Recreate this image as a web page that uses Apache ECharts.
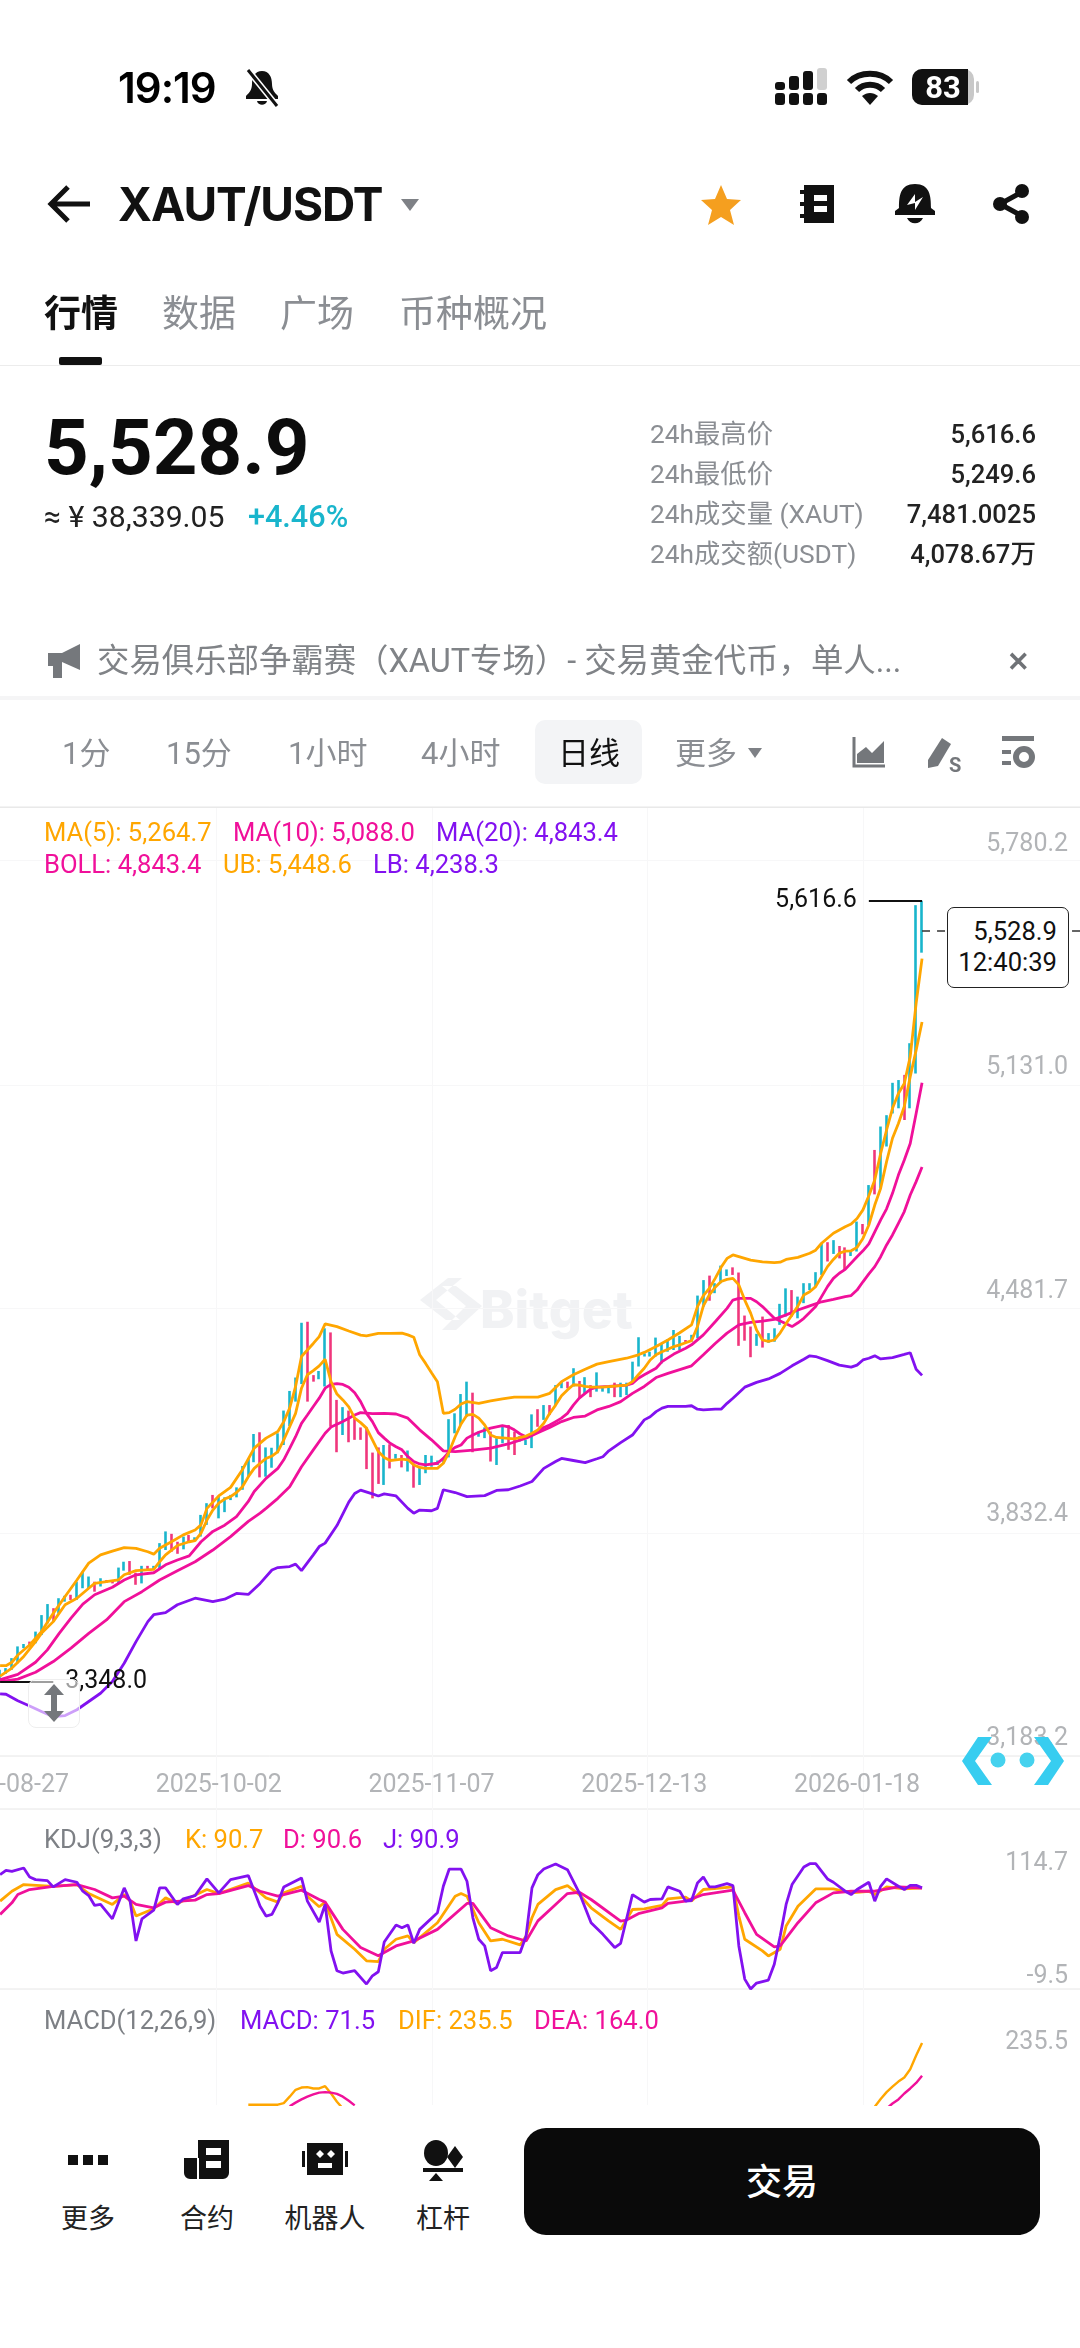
<!DOCTYPE html>
<html>
<head>
<meta charset="utf-8">
<title>XAUT/USDT</title>
<script src="https://cdn.jsdelivr.net/npm/echarts@6/dist/echarts.min.js"></script>
<style>
html,body{margin:0;padding:0;background:#fff;width:1080px;height:2348px;overflow:hidden;font-family:Roboto,"Noto Sans CJK SC",sans-serif}
#main{position:absolute;left:0;top:0;width:1080px;height:2348px;z-index:1}
.t{position:absolute;white-space:nowrap;transform:translateY(calc(-50% + 1.5px));z-index:2;line-height:1.2}
.r{transform:translate(-100%,calc(-50% + 1.5px))}
.c{transform:translate(-50%,calc(-50% + 1.5px))}
.g{color:#8b8e93}
.ic{position:absolute;z-index:2;overflow:visible}
.line{position:absolute;z-index:2;left:0;width:1080px}
.leg{font-size:25.6px}
.tab{font-size:37px;top:314px}
.per{font-size:31px;top:752px;color:#8b8e93}
.stat{font-size:26.3px;color:#8b8e93;left:650px}
.val{font-size:25.6px;color:#222;left:1036px;font-weight:500}
.foot{font-size:27px;top:2218px;color:#222}
</style>
</head>
<body>
<!-- 水印 -->
<svg style="position:absolute;left:418px;top:1272px;z-index:0" width="220" height="72">
  <path d="M30 6 L2 28 L28 48 L42 48 L18 28 L44 6 Z M24 14 L38 14 L64 34 L38 58 L24 58 L48 34 Z" fill="#f1f2f4"/>
  <text x="62" y="56" font-family="Inter" font-weight="800" font-size="52" fill="#f1f2f4">Bitget</text>
</svg>
<div id="main"></div>

<!-- 状态栏 -->
<div class="t" style="left:118px;top:86px;font:600 42px Inter;letter-spacing:-1px">19:19</div>
<svg class="ic" style="left:243px;top:68px" width="38" height="40"><path d="M19 3c-7 0-10 6-10 13 0 6-3 9-6 12v3h32v-3c-3-3-6-6-6-12 0-7-3-13-10-13z M14 33c1 5 9 5 10 0z" fill="#111"/><path d="M5 2 L34 38" stroke="#fff" stroke-width="6"/><path d="M5 2 L34 38" stroke="#111" stroke-width="3"/></svg>
<svg class="ic" style="left:775px;top:68px" width="54" height="38">
  <g fill="#111"><rect x="0" y="25" width="10" height="12" rx="3"/><rect x="14" y="25" width="10" height="12" rx="3"/><rect x="28" y="25" width="10" height="12" rx="3"/><rect x="42" y="25" width="10" height="12" rx="3"/><rect x="0" y="14" width="10" height="8" rx="3"/><rect x="14" y="8" width="10" height="14" rx="3"/><rect x="28" y="3" width="10" height="19" rx="3"/></g>
  <rect x="42" y="0" width="10" height="22" rx="3" fill="#d0d0d0"/>
</svg>
<svg class="ic" style="left:846px;top:68px" width="48" height="38"><g fill="none" stroke="#111" stroke-width="6"><path d="M3 14 C14 3 34 3 45 14"/><path d="M11 22 C18 15 30 15 37 22"/></g><path d="M16 28 C21 24 27 24 32 28 L24 37 Z" fill="#111"/></svg>
<svg class="ic" style="left:912px;top:68px" width="70" height="38"><rect x="0" y="1" width="62" height="36" rx="10" fill="#c8c8c8"/><path d="M10 1 H56 V37 H10 A10 10 0 0 1 0 27 V11 A10 10 0 0 1 10 1 Z" fill="#111"/><rect x="64" y="13" width="3" height="12" rx="1.5" fill="#c8c8c8"/></svg>
<div class="t c" style="left:943px;top:86px;color:#fff;font:700 31px Roboto">83</div>

<!-- 标题栏 -->
<svg class="ic" style="left:46px;top:184px" width="48" height="40"><path d="M44 20 H5 M22 3 L5 20 L22 37" fill="none" stroke="#111" stroke-width="5"/></svg>
<div class="t" style="left:118px;top:202px;font:700 46px Inter;letter-spacing:-1px;color:#111">XAUT/USDT</div>
<svg class="ic" style="left:400px;top:198px" width="20" height="14"><path d="M1 1 H19 L10 13 Z" fill="#7e8186"/></svg>
<svg class="ic" style="left:700px;top:184px" width="42" height="42"><path d="M21 1 L27 15 L41 16 L30 26 L34 41 L21 33 L8 41 L12 26 L1 16 L15 15 Z" fill="#f59f1f"/></svg>
<svg class="ic" style="left:800px;top:184px" width="36" height="40"><path d="M4 1 H34 V39 H4 Z" fill="#111"/><path d="M0 8 H6 M0 20 H6 M0 32 H6" stroke="#111" stroke-width="4"/><path d="M14 11 H27 V17 H14 Z M14 22 H27 V28 H14 Z" fill="#fff"/></svg>
<svg class="ic" style="left:895px;top:184px" width="40" height="42"><path d="M20 0 C5 0 4 12 4 24 L0 27 V31 H40 V27 L36 24 C36 12 35 0 20 0 Z M12 34 C15 41 25 41 28 34 Z" fill="#111"/><path d="M12 21 L20 10 L20 18 L28 13 L20 26 L20 19 Z" fill="#fff"/></svg>
<svg class="ic" style="left:992px;top:184px" width="38" height="40"><path d="M30 8 L8 20 L30 32" fill="none" stroke="#111" stroke-width="5"/><circle cx="30" cy="7" r="7" fill="#111"/><circle cx="8" cy="20" r="7" fill="#111"/><circle cx="30" cy="33" r="7" fill="#111"/></svg>

<!-- 页签 -->
<div class="t tab" style="left:44px;color:#111;font-weight:600">行情</div>
<div class="t tab g" style="left:162px">数据</div>
<div class="t tab g" style="left:280px">广场</div>
<div class="t tab g" style="left:399px">币种概况</div>
<div style="position:absolute;left:59px;top:357px;width:43px;height:8px;border-radius:2px;background:#111;z-index:2"></div>
<div class="line" style="top:365px;height:1px;background:#ececec"></div>

<!-- 价格 -->
<div class="t" style="left:44px;top:446px;font:700 78px Roboto;color:#0c0c0c">5,528.9</div>
<div class="t" style="left:44px;top:516px;font-size:30.2px;color:#222">≈ ¥ 38,339.05</div>
<div class="t" style="left:248px;top:516px;font-size:30.6px;font-weight:500;color:#19b5cc">+4.46%</div>
<div class="t stat" style="top:433px">24h最高价</div><div class="t val r" style="top:433px">5,616.6</div>
<div class="t stat" style="top:473px">24h最低价</div><div class="t val r" style="top:473px">5,249.6</div>
<div class="t stat" style="top:513px">24h成交量 (XAUT)</div><div class="t val r" style="top:513px">7,481.0025</div>
<div class="t stat" style="top:553px">24h成交额(USDT)</div><div class="t val r" style="top:553px">4,078.67万</div>

<!-- 公告 -->
<svg class="ic" style="left:48px;top:644px" width="34" height="36"><path d="M0 9 H14 L32 0 V26 L14 18 V34 H5 V22 H0 Z" fill="#75787c"/></svg>
<div class="t g" style="left:97px;top:660px;font-size:32.4px;color:#808387">交易俱乐部争霸赛（XAUT专场）- 交易黄金代币，单人...</div>
<div class="t c" style="left:1018px;top:660px;font:700 27px Roboto;color:#6f7276">✕</div>
<div class="line" style="top:696px;height:4px;background:#f5f5f6"></div>

<!-- 周期 -->
<div class="t per" style="left:62px">1分</div>
<div class="t per" style="left:166px">15分</div>
<div class="t per" style="left:288px">1小时</div>
<div class="t per" style="left:421px">4小时</div>
<div style="position:absolute;left:535px;top:720px;width:107px;height:64px;border-radius:10px;background:#f3f4f6;z-index:1"></div>
<div class="t per" style="left:558px;color:#111">日线</div>
<div class="t per" style="left:675px">更多</div>
<svg class="ic" style="left:748px;top:748px" width="14" height="10"><path d="M0 0 H14 L7 10 Z" fill="#7e8186"/></svg>
<svg class="ic" style="left:852px;top:737px" width="34" height="32"><path d="M2 0 V29 H33" fill="none" stroke="#74777b" stroke-width="3"/><path d="M5 26 V17 L14 10 L20 16 L32 4 V26 Z" fill="#74777b"/></svg>
<svg class="ic" style="left:925px;top:735px" width="38" height="38"><path d="M3 25 L17 3 L26 9 L13 31 L3 33 Z" fill="#74777b"/><text x="24" y="37" font-size="20" font-weight="700" fill="#74777b">S</text></svg>
<svg class="ic" style="left:1002px;top:736px" width="34" height="34"><g fill="#74777b"><rect x="0" y="0" width="32" height="5"/><rect x="0" y="14" width="9" height="4"/><rect x="0" y="25" width="9" height="4"/></g><circle cx="22" cy="21" r="8" fill="none" stroke="#74777b" stroke-width="6"/></svg>
<div class="line" style="top:807px;height:1px;background:#e9e9e9"></div>

<!-- 指标图例 -->
<div class="t leg" style="left:44px;top:831px;color:#ffa600">MA(5): 5,264.7</div>
<div class="t leg" style="left:233px;top:831px;color:#f0109a">MA(10): 5,088.0</div>
<div class="t leg" style="left:436px;top:831px;color:#8211f0">MA(20): 4,843.4</div>
<div class="t leg" style="left:44px;top:863px;color:#f0109a">BOLL: 4,843.4</div>
<div class="t leg" style="left:223px;top:863px;color:#ffa600">UB: 5,448.6</div>
<div class="t leg" style="left:373px;top:863px;color:#8211f0">LB: 4,238.3</div>
<div class="t leg" style="left:44px;top:1838px;color:#7d8085">KDJ(9,3,3)</div>
<div class="t leg" style="left:185px;top:1838px;color:#ffa600">K: 90.7</div>
<div class="t leg" style="left:283px;top:1838px;color:#f0109a">D: 90.6</div>
<div class="t leg" style="left:383px;top:1838px;color:#8211f0">J: 90.9</div>
<div class="t leg" style="left:44px;top:2019px;color:#7d8085">MACD(12,26,9)</div>
<div class="t leg" style="left:240px;top:2019px;color:#8211f0">MACD: 71.5</div>
<div class="t leg" style="left:398px;top:2019px;color:#ffa600">DIF: 235.5</div>
<div class="t leg" style="left:534px;top:2019px;color:#f0109a">DEA: 164.0</div>

<!-- 最新价框 -->
<div style="position:absolute;left:947px;top:907px;width:120px;height:79px;border:1.5px solid #222;border-radius:7px;background:#fff;z-index:2"></div>
<div class="t r" style="left:1057px;top:930px;font-size:25.6px;color:#111">5,528.9</div>
<div class="t r" style="left:1057px;top:961px;font-size:25.6px;color:#111">12:40:39</div>

<!-- 缩放手柄 -->
<div style="position:absolute;left:28px;top:1679px;width:50px;height:47px;border:1.5px solid #eee;border-radius:8px;background:rgba(255,255,255,.6);z-index:2"></div>
<svg class="ic" style="left:42px;top:1684px" width="24" height="38"><path d="M12 0 L22 11 H15 V27 H22 L12 38 L2 27 H9 V11 H2 Z" fill="#74777b"/></svg>

<!-- 青色浮标 -->
<svg class="ic" style="left:962px;top:1736px" width="102" height="52">
  <path d="M16 1 L30 1 L13 25 L30 49 L16 49 L0 25 Z" fill="#37cdf0"/>
  <path d="M86 1 L72 1 L89 25 L72 49 L86 49 L102 25 Z" fill="#37cdf0"/>
  <circle cx="36" cy="24" r="7.5" fill="#45d2ee"/><circle cx="65" cy="24" r="7.5" fill="#45d2ee"/>
</svg>

<!-- 底栏 -->
<div style="position:absolute;left:0;top:2106px;width:1080px;height:242px;background:#fff;z-index:2"></div>
<svg class="ic" style="left:68px;top:2155px" width="42" height="12"><g fill="#111"><rect x="0" y="0" width="10" height="10"/><rect x="15" y="0" width="10" height="10"/><rect x="30" y="0" width="10" height="10"/></g></svg>
<svg class="ic" style="left:184px;top:2140px" width="46" height="40"><path d="M14 0 H45 V33 A6 6 0 0 1 39 39 H6 A6 6 0 0 1 0 33 V18 H14 Z" fill="#111"/><path d="M22 8 H37 V15 H22 Z M22 21 H37 V28 H22 Z" fill="#fff"/><path d="M14 18 V39" stroke="#fff" stroke-width="2"/></svg>
<svg class="ic" style="left:302px;top:2143px" width="46" height="34"><rect x="5" y="0" width="36" height="32" fill="#111"/><rect x="0" y="8" width="3" height="16" fill="#111"/><rect x="43" y="8" width="3" height="16" fill="#111"/><path d="M14 11 L18 7 L22 11 L18 15 Z M25 11 L29 7 L33 11 L29 15 Z" fill="#fff"/><rect x="16" y="20" width="14" height="5" fill="#fff"/></svg>
<svg class="ic" style="left:422px;top:2140px" width="44" height="42"><ellipse cx="14" cy="13" rx="12" ry="13" fill="#111"/><path d="M33 6 L41 17 L33 28 L25 17 Z" fill="#111"/><rect x="1" y="28" width="40" height="4" fill="#111"/><path d="M14 33 L21 41 H7 Z" fill="#111"/></svg>
<div class="t c foot" style="left:88px">更多</div>
<div class="t c foot" style="left:207px">合约</div>
<div class="t c foot" style="left:325px">机器人</div>
<div class="t c foot" style="left:443px">杠杆</div>
<div style="position:absolute;left:524px;top:2128px;width:516px;height:107px;border-radius:22px;background:#0a0a0a;z-index:2"></div>
<div class="t c" style="left:782px;top:2182px;font-size:36px;font-weight:500;color:#fff">交易</div>

<script>
// 价格轴标签（标签中心就是价格位置，网格线在其下方）
var priceTicks = [5780.2, 5131.0, 4481.7, 3832.4, 3183.2];
var priceGridLines = [5735, 5082, 4434, 3781];
var kdjTicks = [-9.5, 114.7];
var macdTicks = [235.5];
var dateTicks = ['2025-08-27', '2025-10-02', '2025-11-07', '2025-12-13', '2026-01-18'];
var columnLines = [216, 432, 647, 863];

// K线，第一根是 2025-08-26，每行10根
var opens = [
  3368,3374,3387,3406,3447,3463,3463,3489,3523,3558,
  3551,3583,3599,3590,3624,3623,3636,3627,3643,3640,
  3638,3673,3696,3662,3638,3684,3674,3684,3735,3774,
  3752,3736,3773,3759,3775,3809,3888,3828,3845,3877,
  3886,3911,3948,3992,4063,3951,3975,4017,4044,4099,
  4168,4228,4380,4237,4229,4220,4340,4155,4072,4128,
  4109,4084,4077,4003,4020,3930,4032,3997,4004,3964,
  3977,3924,3958,3976,3979,3984,4009,4075,4101,4126,
  4174,4061,4059,4068,3984,4045,4088,4069,4047,4037,
  4035,4136,4113,4150,4157,4203,4218,4210,4218,4190,
  4207,4196,4192,4187,4214,4178,4184,4220,4271,4294,
  4294,4298,4278,4310,4317,4315,4340,4337,4356,4444,
  4522,4479,4510,4528,4550,4520,4406,4373,4327,4402,
  4335,4339,4390,4416,4480,4409,4452,4488,4499,4537,
  4620,4594,4611,4605,4586,4605,4675,4684,4883,4796,
  4910,5006,5020,5100,5030,5130,5480
];
var closes = [
  3381,3386,3413,3447,3457,3453,3491,3537,3569,3527,
  3587,3596,3588,3635,3664,3651,3613,3647,3637,3635,
  3676,3695,3662,3633,3681,3674,3684,3746,3781,3730,
  3723,3767,3757,3767,3828,3862,3855,3883,3880,3890,
  3911,3970,3993,4062,3952,4022,4023,4065,4128,4185,
  4226,4376,4180,4222,4249,4360,4110,4027,4139,4052,
  4056,4054,3976,3892,3932,4026,3974,4009,3974,4015,
  3918,3969,4003,4002,3990,3997,4102,4123,4177,4212,
  4029,4074,4084,3995,4050,4085,4028,4013,4061,4050,
  4117,4093,4148,4125,4205,4218,4203,4255,4176,4229,
  4178,4242,4205,4203,4178,4214,4214,4273,4342,4301,
  4306,4343,4326,4340,4365,4350,4334,4355,4460,4509,
  4461,4504,4553,4545,4532,4340,4345,4298,4356,4326,
  4359,4372,4441,4484,4415,4462,4501,4504,4535,4615,
  4574,4628,4581,4549,4597,4678,4651,4782,4774,4947,
  4987,5081,5089,4990,5190,5590,5528.9
];
var lows = [
  3348,3371,3383,3402,3446,3451,3460,3484,3518,3523,
  3547,3581,3586,3586,3620,3620,3610,3625,3636,3634,
  3634,3671,3659,3630,3634,3673,3673,3678,3731,3726,
  3720,3733,3755,3758,3770,3804,3852,3823,3841,3876,
  3884,3906,3944,3986,3942,3944,3970,4012,4036,4091,
  4162,4213,4162,4220,4227,4206,4089,4015,4065,4044,
  4051,4051,3966,3881,3923,3920,3968,3996,3971,3959,
  3912,3920,3954,3973,3978,3983,4000,4070,4094,4118,
  4015,4060,4056,3988,3978,4041,4022,4007,4046,4036,
  4027,4089,4109,4123,4152,4201,4201,4206,4172,4186,
  4175,4191,4191,4186,4175,4175,4181,4215,4264,4293,
  4293,4293,4273,4307,4312,4312,4333,4336,4346,4438,
  4455,4477,4506,4527,4530,4324,4339,4291,4324,4319,
  4333,4336,4385,4409,4409,4404,4448,4486,4496,4530,
  4569,4591,4578,4544,4585,4598,4648,4675,4764,4782,
  4903,4999,5014,4980,5014,5115,5466
];
var highs = [
  3383,3388,3417,3451,3458,3465,3494,3542,3574,3562,
  3591,3598,3601,3639,3668,3654,3639,3649,3644,3641,
  3680,3697,3699,3665,3685,3685,3685,3751,3785,3778,
  3755,3770,3775,3768,3833,3867,3891,3888,3884,3891,
  3913,3975,3997,4068,4073,4029,4028,4070,4136,4193,
  4232,4391,4394,4239,4251,4375,4363,4167,4146,4136,
  4114,4087,4087,4014,4029,4036,4038,4010,4007,4020,
  3983,3973,4007,4005,3991,3998,4111,4128,4184,4220,
  4188,4075,4087,4075,4056,4089,4094,4075,4062,4051,
  4125,4140,4152,4152,4210,4220,4220,4259,4222,4233,
  4210,4247,4206,4204,4217,4217,4217,4278,4349,4302,
  4307,4348,4331,4343,4370,4353,4341,4356,4470,4515,
  4528,4506,4557,4546,4552,4537,4412,4380,4359,4409,
  4361,4375,4446,4491,4486,4467,4506,4506,4538,4622,
  4625,4631,4614,4610,4598,4685,4678,4791,4893,4961,
  4994,5088,5096,5111,5203,5604,5616.6
];

// 均线拐点 [距 2025-08-27 的天数, 值]
var ub = [[-1,3395],[0,3395],[1,3405],[2,3426],[4,3455],[6,3494],[8,3547],[10,3596],[12,3644],[14,3693],[16,3717],[18,3728],[20,3738],[22,3736],[24,3726],[25,3719],[26,3736],[28,3755],[30,3775],[32,3789],[33,3804],[34,3852],[36,3888],[38,3913],[40,3964],[42,4027],[44,4056],[46,4075],[47,4104],[48,4143],[49,4206],[50,4293],[51,4312],[52,4331],[53,4351],[54,4388],[56,4380],[58,4367],[60,4355],[61,4353],[63,4360],[65,4360],[67,4361],[68,4356],[69,4349],[70,4298],[71,4273],[72,4246],[73,4220],[74,4128],[75,4130],[76,4140],[77,4155],[78,4162],[80,4157],[82,4164],[84,4170],[86,4175],[90,4175],[92,4186],[94,4220],[96,4240],[98,4256],[100,4271],[102,4278],[105,4288],[107,4298],[108,4305],[110,4322],[112,4341],[114,4362],[116,4385],[117,4438],[118,4470],[119,4491],[120,4520],[121,4552],[122,4578],[123,4588],[124,4583],[126,4573],[128,4568],[130,4566],[131,4567],[132,4575],[134,4581],[136,4593],[137,4602],[138,4622],[140,4651],[142,4670],[143,4678],[144,4694],[145,4719],[146,4760],[147,4806],[148,4883],[149,4951],[150,5014],[151,5057],[152,5086],[153,5164],[154,5319],[155,5448.6]];
var ma5 = [[-1,3365],[1,3388],[3,3422],[5,3465],[6,3489],[8,3523],[10,3572],[12,3591],[14,3620],[15,3634],[17,3639],[19,3644],[20,3659],[22,3671],[25,3675],[26,3697],[27,3717],[29,3744],[31,3755],[32,3758],[33,3780],[34,3818],[35,3847],[36,3867],[37,3879],[38,3886],[39,3898],[40,3915],[41,3944],[42,3968],[43,3983],[44,3997],[45,4004],[46,4017],[47,4051],[48,4089],[49,4128],[50,4201],[51,4240],[52,4252],[53,4266],[54,4285],[55,4220],[56,4184],[57,4167],[58,4147],[59,4114],[60,4101],[61,4085],[62,4051],[63,4017],[64,4000],[65,3991],[66,3993],[67,3995],[68,3993],[69,3978],[70,3971],[71,3968],[73,3968],[74,3983],[75,4017],[76,4060],[77,4097],[78,4123],[79,4125],[80,4114],[81,4094],[82,4065],[83,4058],[84,4057],[86,4054],[88,4062],[89,4070],[90,4080],[91,4099],[92,4128],[93,4152],[94,4179],[95,4196],[96,4211],[97,4210],[98,4206],[99,4204],[101,4204],[103,4207],[105,4210],[106,4220],[107,4240],[108,4259],[109,4283],[110,4298],[111,4307],[112,4314],[113,4322],[114,4327],[115,4333],[116,4339],[117,4380],[118,4440],[119,4472],[120,4494],[121,4511],[122,4517],[123,4520],[124,4501],[125,4457],[126,4419],[127,4370],[128,4341],[129,4337],[130,4341],[131,4362],[132,4389],[133,4414],[134,4440],[135,4472],[136,4481],[137,4496],[138,4525],[139,4554],[140,4575],[141,4593],[142,4599],[143,4600],[144,4610],[145,4636],[146,4675],[147,4733],[148,4782],[149,4859],[150,4927],[151,4970],[152,5019],[153,5106],[154,5183],[155,5264.7]];
var ma10 = [[-1,3354],[2,3370],[5,3405],[7,3441],[9,3489],[11,3533],[13,3574],[15,3601],[18,3623],[20,3644],[22,3659],[25,3665],[27,3688],[29,3702],[31,3714],[33,3755],[35,3785],[37,3803],[39,3828],[41,3872],[42,3901],[44,3939],[46,3968],[47,3993],[48,4026],[49,4060],[50,4099],[51,4123],[52,4148],[53,4172],[54,4201],[55,4212],[56,4214],[57,4212],[58,4204],[59,4188],[60,4162],[61,4128],[62,4104],[63,4072],[64,4056],[65,4041],[66,4031],[67,4022],[68,4002],[69,3988],[70,3981],[71,3978],[73,3983],[74,3997],[75,4017],[76,4029],[77,4036],[78,4056],[79,4065],[80,4073],[82,4085],[84,4092],[85,4089],[86,4080],[87,4068],[88,4060],[89,4065],[90,4077],[91,4087],[92,4094],[93,4104],[94,4114],[95,4128],[96,4152],[97,4172],[98,4186],[99,4199],[100,4204],[102,4206],[105,4210],[106,4215],[107,4230],[108,4240],[110,4259],[111,4278],[113,4300],[115,4317],[116,4327],[118,4356],[120,4394],[122,4433],[123,4457],[124,4462],[126,4462],[127,4452],[128,4438],[130,4404],[132,4388],[133,4380],[134,4391],[135,4404],[137,4438],[138,4467],[139,4496],[140,4520],[141,4535],[142,4546],[144,4583],[145,4600],[146,4620],[147,4655],[148,4690],[149,4722],[150,4767],[151,4820],[152,4864],[153,4912],[154,4999],[155,5088]];
var boll = [[-1,3349],[2,3356],[5,3376],[8,3407],[11,3446],[14,3489],[17,3528],[20,3581],[23,3610],[26,3644],[29,3671],[32,3697],[35,3731],[38,3770],[41,3814],[43,3838],[44,3852],[46,3881],[48,3915],[50,3973],[52,4022],[54,4070],[55,4088],[57,4104],[59,4123],[60,4130],[62,4127],[64,4128],[66,4126],[68,4114],[70,4080],[72,4051],[74,4019],[76,4017],[79,4021],[82,4027],[85,4039],[88,4056],[90,4072],[92,4087],[94,4104],[96,4116],[98,4120],[100,4138],[102,4148],[104,4162],[106,4186],[108,4206],[110,4232],[112,4244],[116,4266],[118,4298],[120,4331],[122,4361],[124,4385],[126,4392],[128,4396],[130,4401],[132,4414],[134,4428],[136,4440],[138,4452],[140,4459],[142,4467],[143,4470],[144,4486],[145,4510],[146,4533],[147,4554],[148,4583],[149,4617],[150,4646],[151,4680],[152,4714],[153,4762],[154,4801],[155,4843.4]];
var lb = [[-1,3313],[0,3312],[2,3293],[4,3278],[6,3262],[8,3247],[10,3250],[12,3267],[14,3291],[16,3315],[18,3349],[20,3402],[22,3465],[24,3523],[25,3543],[27,3549],[29,3572],[32,3591],[35,3581],[37,3588],[39,3605],[41,3602],[43,3634],[45,3673],[46,3680],[48,3683],[49,3690],[50,3671],[52,3717],[53,3741],[54,3751],[56,3802],[58,3870],[59,3895],[60,3905],[62,3894],[63,3888],[64,3894],[66,3888],[68,3852],[69,3838],[70,3847],[72,3845],[73,3852],[74,3906],[76,3898],[78,3886],[81,3889],[83,3904],[85,3906],[87,3917],[89,3930],[91,3968],[93,3988],[94,3997],[96,3991],[98,3985],[100,3996],[101,4002],[102,4019],[104,4043],[106,4065],[108,4109],[109,4118],[110,4133],[111,4143],[112,4148],[115,4148],[116,4150],[117,4140],[118,4138],[120,4140],[121,4140],[122,4157],[123,4172],[125,4204],[127,4218],[129,4228],[131,4244],[133,4266],[135,4285],[136,4295],[137,4293],[139,4281],[141,4268],[143,4262],[144,4268],[145,4283],[146,4288],[147,4295],[148,4286],[150,4290],[152,4299],[153,4304],[154,4256],[155,4238.3]];

// KDJ 拐点
var kdjK = [[-1,77.6],[1,87.4],[3,94],[8,92.3],[12,94],[14,85.1],[18,74.3],[20,84.1],[21,77.6],[22,62.8],[25,70],[27,80.8],[29,75.3],[34,89.1],[36,85.1],[41,95.6],[44,80.8],[46,76.6],[47,85.8],[50,92.3],[51,82.5],[53,72],[54,76.6],[56,44.7],[59,29.9],[61,18.4],[63,17.7],[64,29.9],[66,39.8],[68,43.1],[69,36.5],[73,56.2],[76,82.5],[77,85.1],[78,82.5],[80,56.2],[82,38.1],[84,39.8],[87,34.2],[88,43.1],[89,61.1],[90,74.3],[93,89],[95,93],[97,84.1],[99,71],[102,57.8],[104,49.6],[106,69.3],[108,70],[111,73.3],[112,79.9],[115,81.5],[116,77.6],[118,89.1],[123,91.7],[124,62.8],[125,39.8],[128,28.3],[129,23.3],[131,29.9],[132,52.9],[134,72.6],[137,89.7],[140,89.7],[143,85.8],[146,87.4],[147,84.1],[149,91.7],[152,89.7],[155,90.7]];
var kdjD = [[-1,64.4],[1,75.9],[2,84.1],[4,89.1],[8,92.3],[12,94],[15,89.1],[18,80.8],[20,82.5],[22,74.3],[25,71],[27,76.6],[32,78.6],[34,84.1],[36,85.1],[41,93],[43,87.4],[46,82.5],[50,88.4],[53,79.2],[54,76.6],[57,49.6],[60,31.6],[63,23.4],[66,33.2],[69,38.1],[73,49.6],[78,75.3],[79,75.3],[82,51.3],[85,43.1],[88,38.1],[90,58],[93,74.3],[95,85.1],[97,86.4],[99,79.2],[104,57.8],[105,58.8],[107,65.1],[111,71],[112,75.3],[115,77.6],[118,84.1],[123,88.4],[125,66.1],[127,44.7],[130,32.2],[131,33.2],[134,56.2],[137,75.9],[140,85.8],[143,87.4],[147,87.4],[151,91.7],[155,90.6]];
var kdjJ = [[-1,103.8],[0,108.1],[1,107.1],[3,110.4],[4,101.5],[5,98.9],[7,97.9],[8,91.7],[10,98.9],[12,96.3],[13,87.4],[14,83.1],[15,73.3],[16,74.3],[18,60.1],[20,90.7],[21,77.6],[22,38.1],[23,60.1],[25,68.7],[26,90.7],[27,90.7],[29,74.3],[30,79.9],[32,83.1],[34,99.6],[36,85.8],[38,98.9],[41,102.9],[43,72.6],[44,62.8],[45,64.4],[46,75.9],[47,91.7],[50,100.6],[51,77.6],[53,56.9],[54,74.3],[55,28.3],[56,8.6],[57,6.3],[59,8.6],[61,-4.6],[62,3.6],[63,7.6],[64,37.1],[66,53.9],[67,51.3],[68,53.9],[69,35.8],[70,49.6],[73,66.1],[74,92.3],[75,109.4],[77,109.4],[78,97.3],[79,61.1],[80,39.8],[81,33.2],[82,8.6],[83,11.8],[84,26.6],[87,26.6],[88,43.1],[89,90.7],[90,103.8],[91,109.4],[93,114.4],[95,108.8],[97,85.8],[99,56.2],[101,44.7],[103,31.6],[104,35.8],[106,84.1],[108,76.6],[109,79.2],[111,79.9],[112,91.7],[114,87.4],[115,77.6],[116,78.2],[117,95.6],[118,101.5],[119,91.7],[120,91.7],[122,95],[123,93],[124,33.2],[125,0.3],[126,-9.5],[127,-3.6],[129,-0.6],[130,15.1],[131,43.1],[132,74.3],[133,94],[135,111.4],[136,114.7],[137,114.7],[139,99.6],[140,96.3],[142,87.4],[143,84.1],[144,89.1],[146,96.3],[147,77.6],[148,92.3],[149,99.6],[151,92.3],[152,89.1],[153,93.3],[154,93.3],[155,90.9]];

// MACD 只露出顶部，中间的部分被底栏盖住
var dif = [[41,100.5],[46,100.5],[47,104],[48,118],[49,133],[50,138],[51,139],[52,136],[53,136],[54,141],[55,125],[56,107],[57,92],null,[147,96],[148,113],[149,128],[150,140],[151,151],[152,160],[153,178],[154,208],[155,235.5]];
var dea = [[48,97],[49,105],[50,112],[51,118],[52,123],[53,127],[54,128],[55,127],[56,124],[57,118],[58,109],[59,99],null,[149,92],[150,103],[151,112],[152,125],[153,136],[154,148],[155,164]];

var ORANGE = '#ffa600', MAGENTA = '#f0109a', PURPLE = '#8211f0';
var UP = '#19b5cc', DOWN = '#f0367c';

// 横轴按天排列，右边留空
var START = Date.UTC(2025, 7, 26);
var dates = opens.map(function (o, i) {
  return new Date(START + i * 86400000).toISOString().slice(0, 10);
});
var blanks = new Array(27).fill('');
var categories = dates.concat(blanks);
var candles = opens.map(function (o, i) { return [o, closes[i], lows[i], highs[i]]; });

function toPoints(pts) {
  return pts.map(function (p) { return p ? [p[0] + 1, p[1]] : ['-', '-']; });
}
function lineOf(name, pts, color, axis, width) {
  return {
    name: name, type: 'line', data: toPoints(pts), xAxisIndex: axis, yAxisIndex: axis === 0 ? 0 : axis + 1,
    symbol: 'none', clip: true, silent: true, animation: false,
    lineStyle: { color: color, width: width || 2.8 }, z: 3
  };
}
function money(v) {
  return v.toLocaleString('en-US', { minimumFractionDigits: 1, maximumFractionDigits: 1 });
}

var LEFT = -2.87, WIDTH = 1087.44;
var AXIS_COLOR = '#b2b4b7';
var BORDER = '#e6e6e6';
var FAINT = '#f7f7f8';

function catAxis(grid, withLabel) {
  return {
    type: 'category', gridIndex: grid, data: categories, boundaryGap: true,
    axisLine: { show: false }, axisTick: { show: false }, splitLine: { show: false },
    axisLabel: withLabel ? {
      show: true, color: AXIS_COLOR, fontSize: 25, fontFamily: 'Roboto', margin: 17, hideOverlap: false,
      interval: function (i, v) { return dateTicks.indexOf(v) >= 0; }
    } : { show: false }
  };
}
function valAxis(grid, min, max, ticks, extra) {
  var label = {
    show: true, inside: true, margin: 16.5, customValues: ticks,
    formatter: function (v) { return v.toFixed(1); },
    color: AXIS_COLOR, fontSize: 25, fontFamily: 'Roboto', padding: [5, 0, 0, 0]
  };
  if (extra) { Object.assign(label, extra); }
  return {
    type: 'value', gridIndex: grid, position: 'right', min: min, max: max,
    axisLine: { show: false }, axisTick: { show: false }, splitLine: { show: false },
    axisLabel: label
  };
}

var option = {
  animation: false,
  backgroundColor: 'transparent',
  grid: [
    { left: LEFT, top: 807, width: WIDTH, height: 949, outerBoundsMode: 'none', show: true, borderColor: BORDER, borderWidth: 1, backgroundColor: 'transparent' },
    { left: LEFT, top: 1809, width: WIDTH, height: 180, outerBoundsMode: 'none', show: true, borderColor: BORDER, borderWidth: 1, backgroundColor: 'transparent' },
    { left: LEFT, top: 1989, width: WIDTH, height: 116, outerBoundsMode: 'none' },
    { left: 0, top: 807, width: 1080, height: 1298, outerBoundsMode: 'none' }
  ],
  xAxis: [
    catAxis(0, true),
    catAxis(1, false),
    catAxis(2, false),
    {
      type: 'value', gridIndex: 3, min: 0, max: 1080,
      axisLine: { show: false }, axisLabel: { show: false },
      axisTick: { show: false, customValues: columnLines },
      splitLine: { show: true, lineStyle: { color: FAINT, width: 1 } }
    }
  ],
  yAxis: [
    valAxis(0, 3132.7, 5889.1, priceTicks, { formatter: money }),
    {
      type: 'value', gridIndex: 0, position: 'left', min: 3132.7, max: 5889.1,
      axisLine: { show: false }, axisLabel: { show: false },
      axisTick: { show: false, customValues: priceGridLines },
      splitLine: { show: true, lineStyle: { color: FAINT, width: 1 } }
    },
    valAxis(1, -9.5, 168.9, kdjTicks, { verticalAlignMinLabel: 'bottom', padding: [0, 0, 0, 0] }),
    valAxis(2, 99.8, 353.7, macdTicks),
    { type: 'value', gridIndex: 3, min: 0, max: 1, show: false, splitLine: { show: false } }
  ],
  series: [
    {
      type: 'candlestick', name: 'K', data: candles, xAxisIndex: 0, yAxisIndex: 0,
      barWidth: 1, silent: true, z: 2,
      itemStyle: { color: UP, color0: DOWN, borderColor: UP, borderColor0: DOWN, borderWidth: 2.6 },
      markLine: {
        silent: true, symbol: 'none', animation: false,
        lineStyle: { color: '#111', width: 2, type: 'solid' },
        label: { color: '#111', fontSize: 25, fontFamily: 'Roboto', distance: 12, padding: [4, 0, 0, 0] },
        data: [
          [
            { coord: [147, 5616.6], label: { position: 'start', formatter: '5,616.6' } },
            { coord: [156, 5616.6] }
          ],
          [
            { coord: [0, 3348.0], label: { position: 'end', formatter: '3,348.0' } },
            { coord: [9, 3348.0] }
          ],
          [
            { coord: [156, 5528.9], lineStyle: { color: '#333', width: 1.5, type: [8, 7] }, label: { show: false } },
            { coord: [183, 5528.9] }
          ]
        ]
      }
    },
    lineOf('LB', lb, PURPLE, 0),
    lineOf('BOLL', boll, MAGENTA, 0),
    lineOf('MA10', ma10, MAGENTA, 0),
    lineOf('UB', ub, ORANGE, 0),
    lineOf('MA5', ma5, ORANGE, 0),
    lineOf('K', kdjK, ORANGE, 1),
    lineOf('D', kdjD, MAGENTA, 1),
    lineOf('J', kdjJ, PURPLE, 1),
    lineOf('DIF', dif, ORANGE, 2, 2.4),
    lineOf('DEA', dea, MAGENTA, 2, 2.4),
    { type: 'line', data: [], xAxisIndex: 3, yAxisIndex: 4 }
  ]
};

var myChart = echarts.init(document.getElementById('main'));
myChart.setOption(option);
</script>
</body>
</html>
